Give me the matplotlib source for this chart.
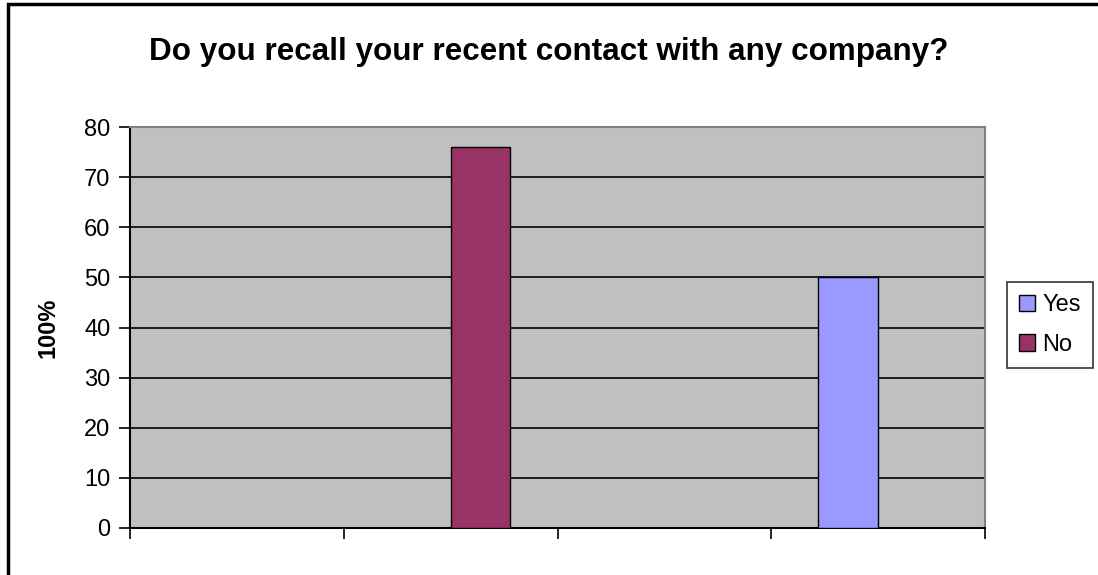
import numpy as np
import matplotlib.pyplot as plt
from matplotlib.patches import Rectangle

# Данные (4 категории без подписей)
categories = ['', '', '', '']
yes_values = [0, 0, 0, 50]
no_values = [0, 76, 0, 0]

plt.rcParams['font.family'] = ['Liberation Sans', 'DejaVu Sans']

fig = plt.figure(figsize=(10.98, 5.75), dpi=100)
ax = fig.add_axes([130 / 1098, 1 - 528 / 575, 855 / 1098, 401 / 575])

x = np.arange(1, len(categories) + 1)
w = 0.28
ax.bar(x - w / 2, yes_values, w, color='#9999FF', edgecolor='black', linewidth=1, label='Yes', zorder=3)
ax.bar(x + w / 2, no_values, w, color='#993366', edgecolor='black', linewidth=1, label='No', zorder=3)

ax.set_facecolor('#C0C0C0')
ax.set_xlim(0.5, len(categories) + 0.5)
ax.set_ylim(0, 80)
ax.set_yticks(range(0, 81, 10))
ax.set_xticks(np.arange(0.5, len(categories) + 1, 1))
ax.set_xticklabels([])
ax.yaxis.grid(True, color='black', linewidth=1.2, zorder=1)
ax.set_axisbelow(True)
ax.tick_params(axis='both', direction='out', length=8, width=1.2, labelsize=17, pad=6)

for s in ['top', 'right']:
    ax.spines[s].set_color('#808080')
    ax.spines[s].set_linewidth(1.5)
for s in ['left', 'bottom']:
    ax.spines[s].set_linewidth(1.5)

ax.set_ylabel('100%', fontsize=17, fontweight='bold', labelpad=18)
fig.text(0.5, 1 - 52 / 575, 'Do you recall your recent contact with any company?',
         ha='center', va='center', fontsize=22.6, fontweight='bold')

leg = ax.legend(loc='center left', bbox_to_anchor=(1007 / 1098, 1 - 325 / 575),
                bbox_transform=fig.transFigure, fontsize=17, frameon=True,
                fancybox=False, edgecolor='black', handlelength=0.7, handleheight=0.7,
                handletextpad=0.3, borderpad=0.5, labelspacing=0.75, borderaxespad=0)
leg.get_frame().set_linewidth(1.2)

# Рамка вокруг всей диаграммы
fig.patches.append(Rectangle((8 / 1098, -0.05), 1.1, 1 - 4 / 575 + 0.05, transform=fig.transFigure,
                             fill=False, edgecolor='black', linewidth=2.5))

fig.savefig('out.png', dpi=100)
